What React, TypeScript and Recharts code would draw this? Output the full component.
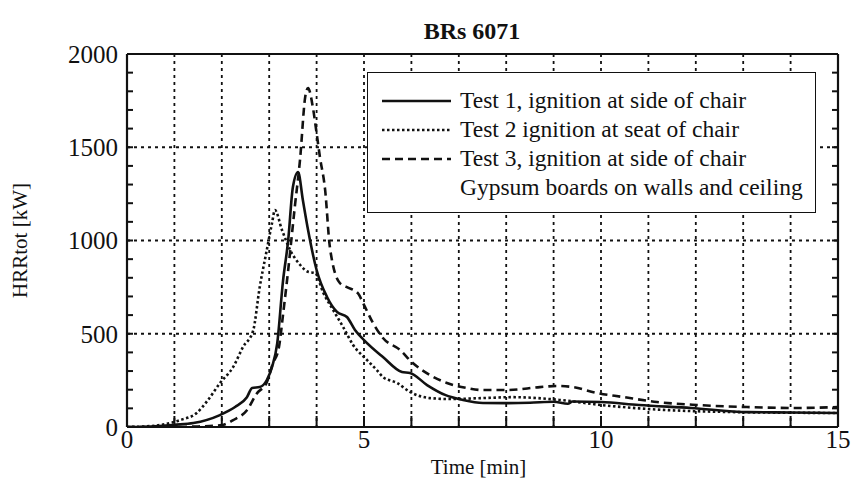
import { LineChart, Line, XAxis, YAxis, CartesianGrid, Legend } from 'recharts'

// time [min] / HRR [kW]
const test1Time = [0, 0.5, 1.0, 1.4, 1.96, 2.28, 2.53, 2.64, 2.8, 2.95, 3.06, 3.17, 3.29, 3.4, 3.5, 3.61, 3.71, 3.82, 4.0, 4.22, 4.43, 4.64, 4.81, 5.0, 5.4, 5.8, 5.97, 6.33, 6.71, 7.09, 7.51, 8.0, 8.5, 9.0, 9.3, 9.4, 10.0, 10.8, 11.9, 13.1, 14.0, 15]
const test1Hrr = [0, 3, 12, 21, 64, 107, 160, 209, 214, 252, 322, 450, 780, 1000, 1287, 1367, 1217, 1056, 842, 697, 617, 590, 520, 466, 375, 295, 290, 225, 172, 145, 129, 128, 130, 135, 125, 137, 134, 118, 102, 80, 78, 75]

const test2Time = [0, 0.5, 1.0, 1.12, 1.47, 1.71, 1.96, 2.24, 2.45, 2.66, 2.8, 2.95, 3.06, 3.12, 3.27, 3.44, 3.65, 3.82, 3.97, 4.14, 4.35, 4.56, 4.77, 5.06, 5.27, 5.4, 5.7, 5.97, 6.39, 6.81, 7.5, 8.14, 9.13, 10.0, 10.8, 12.4, 15]
const test2Hrr = [0, 5, 27, 37, 75, 145, 235, 322, 430, 515, 750, 950, 1094, 1163, 1056, 950, 870, 832, 825, 720, 627, 536, 440, 360, 305, 268, 236, 188, 155, 150, 155, 160, 145, 118, 100, 82, 75]

const test3Time = [0, 1.0, 1.5, 2.0, 2.24, 2.53, 2.74, 2.95, 3.08, 3.2, 3.3, 3.4, 3.54, 3.65, 3.76, 3.82, 3.92, 4.0, 4.07, 4.18, 4.28, 4.49, 4.64, 4.87, 4.98, 5.19, 5.4, 5.76, 6.03, 6.39, 6.75, 7.17, 7.51, 8.02, 8.71, 9.07, 9.41, 9.92, 10.46, 11.18, 12.03, 13.08, 14.13, 15]
const test3Hrr = [0, 0, 3, 10, 37, 90, 180, 240, 343, 420, 620, 840, 1180, 1432, 1770, 1818, 1716, 1576, 1448, 1271, 965, 772, 750, 718, 665, 558, 477, 413, 343, 279, 236, 209, 198, 198, 214, 220, 214, 182, 161, 134, 118, 107, 102, 107]

const xTicks = [0, 1, 2, 3, 4, 5, 6, 7, 8, 9, 10, 11, 12, 13, 14, 15]
const xLabelled = [0, 5, 10, 15]
const yGridValues = [500, 1000, 1500]
const yLabelled = [0, 500, 1000, 1500, 2000]
const yTicks = [0, 100, 200, 300, 400, 500, 600, 700, 800, 900, 1000, 1100, 1200, 1300, 1400, 1500, 1600, 1700, 1800, 1900, 2000]

const legendRows = [
  { label: 'Test 1, ignition at side of chair', dash: '' },
  { label: 'Test 2 ignition at seat of chair', dash: '2.5 2.5' },
  { label: 'Test 3, ignition at side of chair', dash: '8 5' },
  { label: 'Gypsum boards on walls and ceiling', dash: null },
]

const toPoints = (time: number[], hrr: number[]) => time.map((t, i) => ({ t, v: hrr[i] }))

const test1 = toPoints(test1Time, test1Hrr)
const test2 = toPoints(test2Time, test2Hrr)
const test3 = toPoints(test3Time, test3Hrr)

const FONT = '"Liberation Serif", "Times New Roman", Times, serif'
const INK = '#111'

// tick marks only, no text
const noLabel = () => <g />

function LegendBox() {
  return (
    <div
      style={{
        background: '#fff',
        border: `1.5px solid ${INK}`,
        width: 449,
        height: 141,
        boxSizing: 'border-box',
        paddingTop: 13,
        fontFamily: FONT,
        fontSize: 23.5,
        color: INK,
        textAlign: 'left',
      }}
    >
      {legendRows.map((row) => (
        <div key={row.label} style={{ display: 'flex', alignItems: 'center', height: 29, whiteSpace: 'nowrap' }}>
          <svg width={92} height={29} style={{ flex: 'none' }}>
            {row.dash !== null && (
              <line x1={14} x2={83} y1={15} y2={15} stroke={INK} strokeWidth={2.5} strokeDasharray={row.dash} />
            )}
          </svg>
          <span>{row.label}</span>
        </div>
      ))}
    </div>
  )
}

export default function App() {
  return (
    <div
      style={{
        position: 'absolute',
        left: 0,
        top: 0,
        width: 853,
        height: 490,
        background: '#fff',
        fontFamily: FONT,
      }}
    >
      <div
        style={{
          position: 'absolute',
          left: 372,
          width: 200,
          top: 18,
          textAlign: 'center',
          fontWeight: 'bold',
          fontSize: 24,
          color: INK,
        }}
      >
        BRs 6071
      </div>
      <LineChart
        width={853}
        height={490}
        margin={{ top: 46, right: 7, bottom: 0, left: 0 }}
        style={{ fontFamily: FONT }}
      >
        <CartesianGrid
          xAxisId="x"
          yAxisId="y"
          horizontalValues={yGridValues}
          stroke={INK}
          strokeWidth={1.8}
          strokeDasharray="3 4"
        />
        <XAxis
          xAxisId="x"
          dataKey="t"
          type="number"
          domain={[0, 15]}
          ticks={xTicks}
          interval={0}
          height={63}
          tickSize={-11}
          tickMargin={14}
          stroke={INK}
          axisLine={{ stroke: INK, strokeWidth: 2.2 }}
          tickLine={{ stroke: INK, strokeWidth: 2 }}
          tickFormatter={(v) => (xLabelled.includes(v) ? String(v) : '')}
          tick={{ fontSize: 25, fill: INK, fontFamily: FONT }}
          label={{ value: 'Time [min]', position: 'insideBottom', offset: 16, dx: -4, fontSize: 21, fill: INK, fontFamily: FONT }}
        />
        <XAxis
          xAxisId="top"
          dataKey="t"
          type="number"
          domain={[0, 15]}
          ticks={xTicks}
          interval={0}
          orientation="top"
          height={8}
          tick={noLabel}
          tickSize={-9}
          tickMargin={0}
          stroke={INK}
          axisLine={{ stroke: INK, strokeWidth: 2.2 }}
          tickLine={{ stroke: INK, strokeWidth: 2 }}
        />
        <YAxis
          yAxisId="y"
          type="number"
          domain={[0, 2000]}
          ticks={yTicks}
          interval={0}
          width={127}
          tickSize={-6}
          tickMargin={15}
          allowDataOverflow
          stroke={INK}
          axisLine={{ stroke: INK, strokeWidth: 2.2 }}
          tickLine={{ stroke: INK, strokeWidth: 2 }}
          tickFormatter={(v) => (yLabelled.includes(v) ? String(v) : '')}
          tick={{ fontSize: 25, fill: INK, fontFamily: FONT }}
          label={{
            value: 'HRRtot [kW]',
            angle: -90,
            position: 'insideLeft',
            offset: 20,
            fontSize: 21,
            fill: INK,
            fontFamily: FONT,
            style: { textAnchor: 'middle' },
          }}
        />
        <YAxis
          yAxisId="right"
          type="number"
          domain={[0, 2000]}
          ticks={yTicks}
          interval={0}
          orientation="right"
          width={8}
          tick={noLabel}
          tickSize={-6}
          tickMargin={0}
          allowDataOverflow
          stroke={INK}
          axisLine={{ stroke: INK, strokeWidth: 2.2 }}
          tickLine={{ stroke: INK, strokeWidth: 2 }}
        />
        <Legend
          content={<LegendBox />}
          layout="horizontal"
          verticalAlign="middle"
          align="center"
          wrapperStyle={{ position: 'absolute', left: 367, top: 72, width: 449, height: 141 }}
        />
        <Line
          xAxisId="x"
          yAxisId="y"
          data={test1}
          dataKey="v"
          name="Test 1"
          type="monotone"
          stroke={INK}
          strokeWidth={2.6}
          dot={false}
          isAnimationActive={false}
        />
        <Line
          xAxisId="x"
          yAxisId="y"
          data={test2}
          dataKey="v"
          name="Test 2"
          type="monotone"
          stroke={INK}
          strokeWidth={2.6}
          strokeDasharray="2.5 2.5"
          dot={false}
          isAnimationActive={false}
        />
        <Line
          xAxisId="x"
          yAxisId="y"
          data={test3}
          dataKey="v"
          name="Test 3"
          type="monotone"
          stroke={INK}
          strokeWidth={2.6}
          strokeDasharray="8 5"
          dot={false}
          isAnimationActive={false}
        />
      </LineChart>
    </div>
  )
}
